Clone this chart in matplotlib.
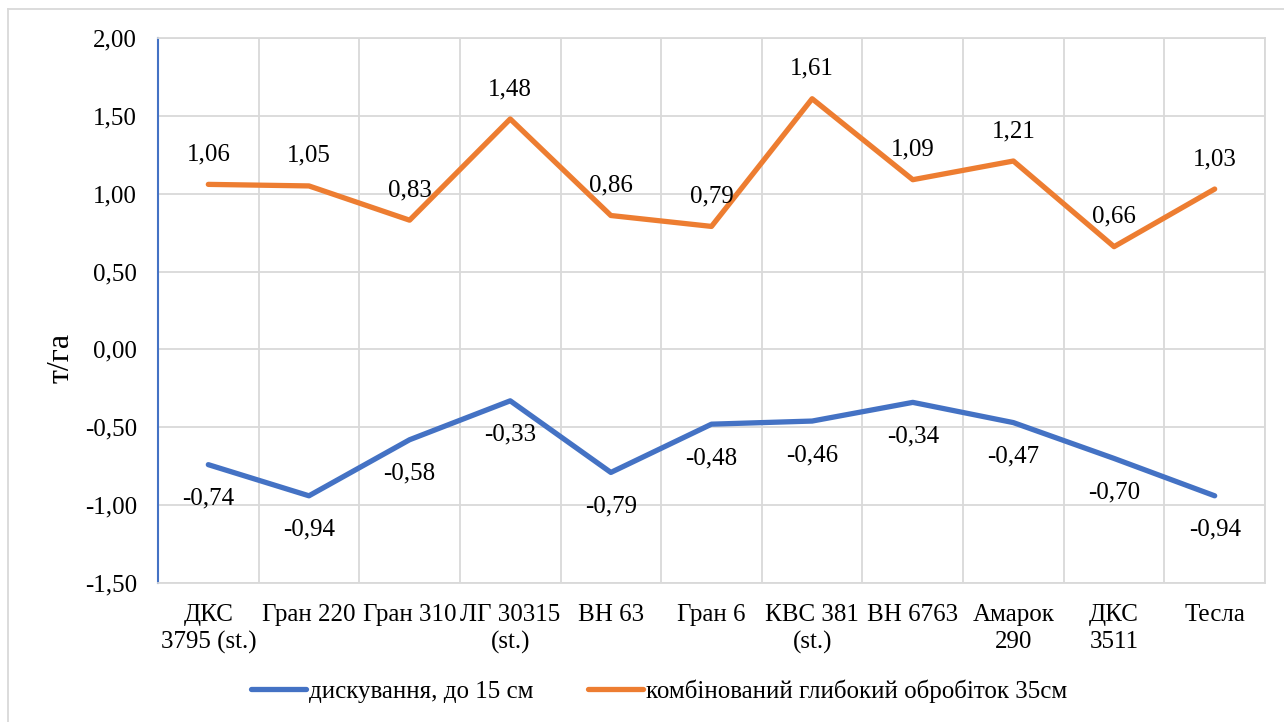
import matplotlib
matplotlib.use("Agg")
import matplotlib.pyplot as plt
from matplotlib.lines import Line2D

categories = ["ДКС\n3795 (st.)", "Гран 220", "Гран 310", "ЛГ 30315\n(st.)", "ВН 63",
              "Гран 6", "КВС 381\n(st.)", "ВН 6763", "Амарок\n290", "ДКС\n3511", "Тесла"]
disk = [-0.74, -0.94, -0.58, -0.33, -0.79, -0.48, -0.46, -0.34, -0.47, -0.70, -0.94]
comb = [1.06, 1.05, 0.83, 1.48, 0.86, 0.79, 1.61, 1.09, 1.21, 0.66, 1.03]
series_names = ["дискування, до 15 см", "комбінований глибокий обробіток 35см"]
yticks = [-1.5, -1.0, -0.5, 0.0, 0.5, 1.0, 1.5, 2.0]

plt.rcParams['font.family'] = ['Liberation Serif', 'DejaVu Serif']

BLUE = "#4472C4"
ORANGE = "#ED7D31"
GRID = "#D9D9D9"
FS = 18

fig = plt.figure(figsize=(12.84, 7.22), dpi=100)
ax = fig.add_axes([158/1284, 1-583/722, (1265-158)/1284, (583-38)/722])

x = list(range(len(categories)))
ax.plot(x, disk, color=BLUE, lw=3.8, solid_capstyle='round', solid_joinstyle='round', label=series_names[0], zorder=3)
ax.plot(x, comb, color=ORANGE, lw=3.8, solid_capstyle='round', solid_joinstyle='round', label=series_names[1], zorder=3)

def fmt(v):
    return f"{v:.2f}".replace(".", ",")

for xi, v in zip(x, disk):
    ax.annotate(fmt(v), (xi, v), xytext=(0, -34), textcoords='offset pixels',
                ha='center', va='center', fontsize=FS, color='#000000')
for xi, v in zip(x, comb):
    ax.annotate(fmt(v), (xi, v), xytext=(0, 30), textcoords='offset pixels',
                ha='center', va='center', fontsize=FS, color='#000000')

ax.set_xlim(-0.5, len(categories) - 0.5)
ax.set_ylim(-1.5, 2.0)
ax.set_yticks(yticks)
ax.set_yticklabels([fmt(v) for v in yticks], fontsize=FS)
ax.set_xticks(x)
ax.set_xticklabels(categories, fontsize=FS, linespacing=1.28)
ax.set_xticks([i + 0.5 for i in range(-1, len(categories))], minor=True)
ax.tick_params(axis='both', which='both', length=0)
ax.tick_params(axis='x', pad=15)
ax.tick_params(axis='y', pad=15)
ax.grid(True, which='minor', axis='x', color=GRID, lw=1.3)
ax.grid(True, which='major', axis='y', color=GRID, lw=1.3)
ax.set_axisbelow(True)
for s in ['top', 'right', 'bottom']:
    ax.spines[s].set_color(GRID)
    ax.spines[s].set_linewidth(1.3)
ax.spines['left'].set_color(BLUE)
ax.spines['left'].set_linewidth(1.5)
ax.set_ylabel("т/га", fontsize=23, va='center')
ax.yaxis.set_label_coords((61-158)/1107, (583-358)/545)

leg = fig.legend(loc='center', bbox_to_anchor=(659/1284, 1-691/722), ncol=2, frameon=False,
                 fontsize=FS, handlelength=2.2, handletextpad=0.1, columnspacing=2.2)

fig.add_artist(Line2D([8/1284, 1.0], [1-9/722, 1-9/722], transform=fig.transFigure, color=GRID, lw=1.3))
fig.add_artist(Line2D([8/1284, 8/1284], [0.0, 1-9/722], transform=fig.transFigure, color=GRID, lw=1.3))

fig.savefig("out.png", dpi=100)
